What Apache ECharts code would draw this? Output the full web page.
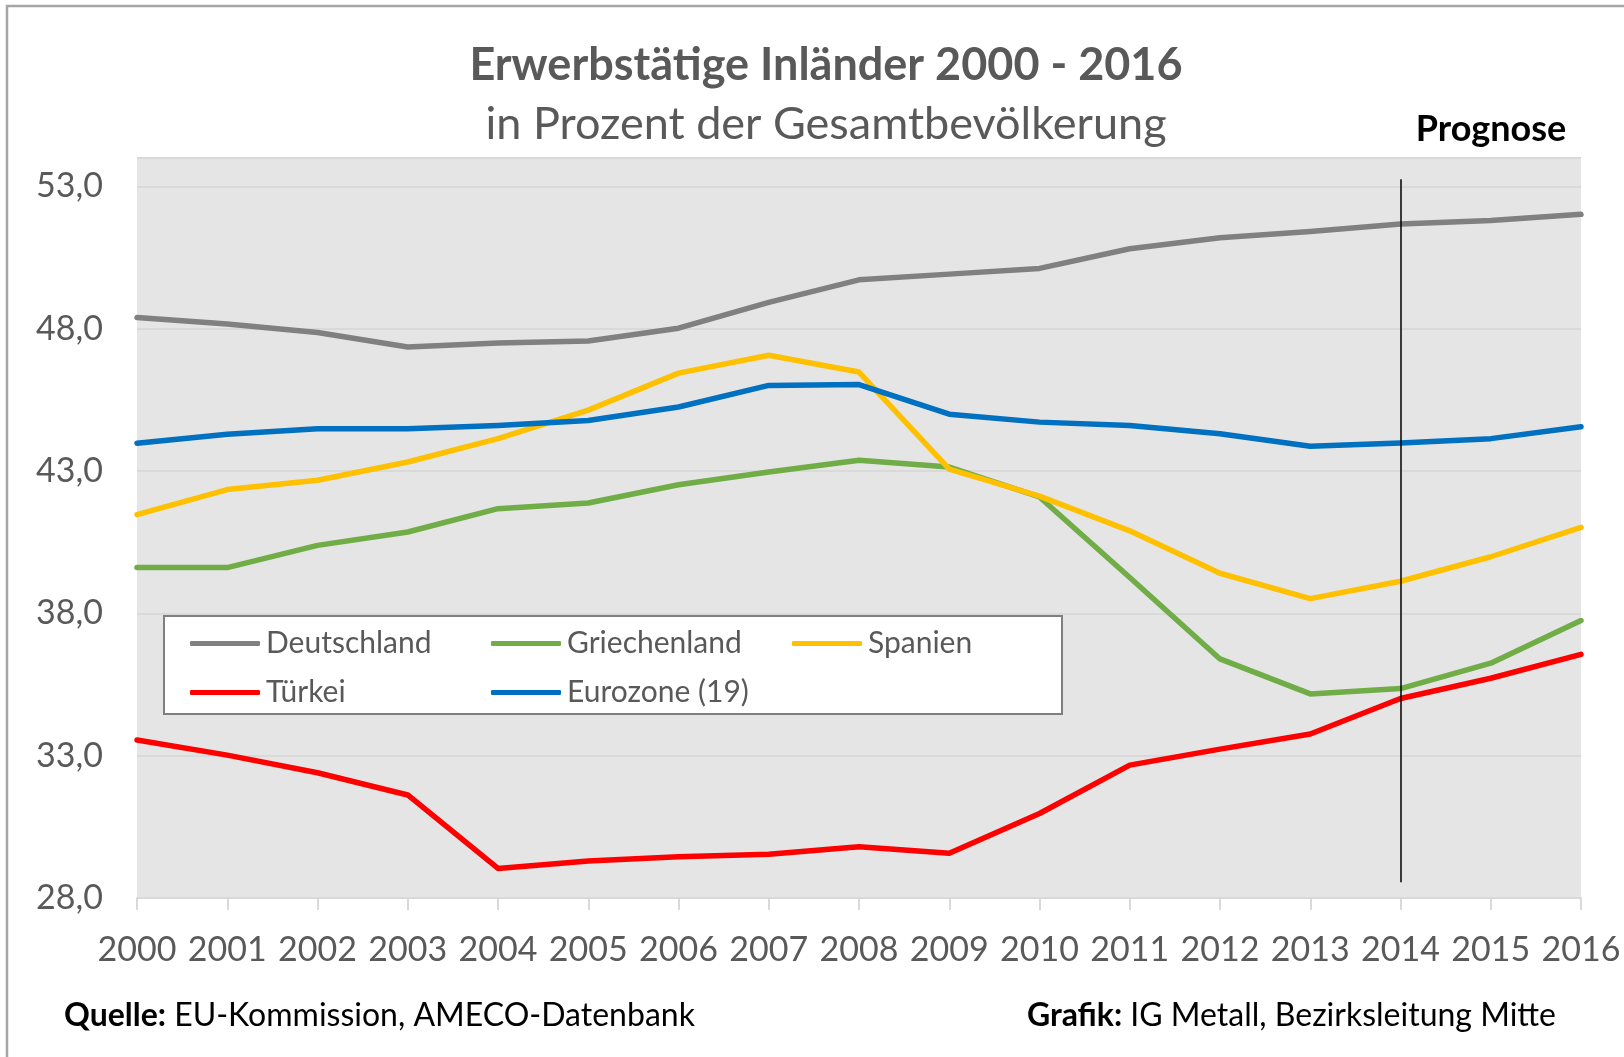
<!DOCTYPE html>
<html>
<head>
<meta charset="utf-8">
<script src="https://cdn.jsdelivr.net/npm/echarts@6/dist/echarts.min.js"></script>
<style>
  html, body { margin: 0; padding: 0; background: #ffffff; }
  #chart { width: 1624px; height: 1057px; }
</style>
</head>
<body>
<div id="chart"></div>
<script>
// ---- Data ----
const years = ['2000','2001','2002','2003','2004','2005','2006','2007','2008','2009','2010','2011','2012','2013','2014','2015','2016'];
const deutschland  = [48.4, 48.17, 47.87, 47.36, 47.5, 47.57, 48.02, 48.93, 49.72, 49.92, 50.12, 50.81, 51.2, 51.42, 51.68, 51.8, 52.02];
const griechenland = [39.61, 39.61, 40.39, 40.86, 41.68, 41.88, 42.52, 42.97, 43.38, 43.14, 42.09, 39.26, 36.4, 35.17, 35.36, 36.25, 37.75];
const spanien      = [41.47, 42.35, 42.68, 43.32, 44.14, 45.14, 46.44, 47.07, 46.48, 43.07, 42.12, 40.9, 39.41, 38.52, 39.13, 39.99, 41.02];
const tuerkei      = [33.55, 33.02, 32.4, 31.62, 29.04, 29.3, 29.45, 29.54, 29.8, 29.57, 30.97, 32.67, 33.23, 33.76, 35.01, 35.72, 36.56];
const eurozone     = [43.98, 44.29, 44.49, 44.49, 44.6, 44.78, 45.25, 46.01, 46.04, 45.0, 44.72, 44.6, 44.31, 43.87, 43.99, 44.14, 44.56];
const seriesNames  = ['Deutschland', 'Griechenland', 'Spanien', 'Türkei', 'Eurozone (19)'];
const yTicks = { min: 28, max: 54, interval: 5 };
const prognoseYear = '2014';
const prognoseLineRange = [28.55, 53.25];
const titleText = 'Erwerbstätige Inländer 2000 - 2016';
const subtitleText = 'in Prozent der Gesamtbevölkerung';
const prognoseText = 'Prognose';
const sourceLabel = 'Quelle:';
const sourceText = ' EU-Kommission, AMECO-Datenbank';
const creditLabel = 'Grafik:';
const creditText = ' IG Metall, Bezirksleitung Mitte';

const colors = ['#808080', '#70AD47', '#FFC000', '#FF0000', '#0070C0'];
const FONT = 'Lato';
const seriesData = [deutschland, griechenland, spanien, tuerkei, eurozone];

const chart = echarts.init(document.getElementById('chart'), null, { renderer: 'canvas' });

const series = seriesNames.map((name, i) => ({
  name: name,
  type: 'line',
  data: seriesData[i],
  symbol: 'none',
  smooth: false,
  lineStyle: { width: 5.5, color: colors[i], cap: 'round', join: 'round' },
  itemStyle: { color: colors[i] },
  z: 2
}));

series[0].markLine = {
  silent: true,
  symbol: ['none', 'none'],
  label: { show: false },
  lineStyle: { color: '#000000', width: 1.5, type: 'solid' },
  data: [[{ coord: [prognoseYear, prognoseLineRange[1]] }, { coord: [prognoseYear, prognoseLineRange[0]] }]]
};

const option = {
  animation: false,
  backgroundColor: '#ffffff',
  grid: {
    left: 137, right: 43, top: 158, bottom: 159,
    show: true, backgroundColor: '#e5e5e5', borderWidth: 0
  },
  legend: {
    data: seriesNames,
    left: 190, top: 619, width: 910,
    orient: 'horizontal',
    padding: 0, itemGap: 0,
    itemWidth: 70, itemHeight: 5,
    icon: 'roundRect',
    itemStyle: { borderWidth: 0 },
    textStyle: { fontFamily: FONT, fontSize: 30, color: '#595959', width: 225, lineHeight: 49, padding: [0,0,0,1] },
    selectedMode: false,
    z: 5
  },
  xAxis: {
    type: 'category',
    data: years,
    boundaryGap: false,
    axisLine: { show: true, lineStyle: { color: '#d9d9d9', width: 2 } },
    axisTick: { show: true, length: 12, lineStyle: { color: '#d9d9d9', width: 2 } },
    axisLabel: { fontFamily: FONT, fontSize: 34, color: '#595959', margin: 35, interval: 0 },
    splitLine: { show: false }
  },
  yAxis: {
    type: 'value',
    min: yTicks.min, max: yTicks.max, interval: yTicks.interval,
    axisLine: { show: false },
    axisTick: { show: false },
    axisLabel: {
      fontFamily: FONT, fontSize: 34, color: '#595959', margin: 34,
      showMaxLabel: false,
      formatter: v => v.toFixed(1).replace('.', ',')
    },
    splitLine: { show: true, lineStyle: { color: '#d9d9d9', width: 2 } }
  },
  series: series,
  graphic: [
    { type: 'rect', z: 0, silent: true,
      shape: { x: 7, y: 6, width: 1700, height: 1100 },
      style: { fill: 'none', stroke: '#a6a6a6', lineWidth: 2.5 } },
    { type: 'rect', z: 4, silent: true,
      shape: { x: 164, y: 616, width: 898, height: 98 },
      style: { fill: '#ffffff', stroke: '#7f7f7f', lineWidth: 2 } },
    { type: 'text', silent: true, x: 826, y: 65,
      style: { text: titleText, font: 'bold 45px Lato', fill: '#595959', align: 'center', verticalAlign: 'middle' } },
    { type: 'text', silent: true, x: 826, y: 124,
      style: { text: subtitleText, font: '45px Lato', fill: '#595959', align: 'center', verticalAlign: 'middle' } },
    { type: 'text', silent: true, x: 1491, y: 129,
      style: { text: prognoseText, font: 'bold 36px Lato', fill: '#000000', align: 'center', verticalAlign: 'middle' } },
    { type: 'text', silent: true, x: 64, y: 1016,
      style: {
        text: '{b|' + sourceLabel + '}{n|' + sourceText + '}',
        verticalAlign: 'middle', align: 'left',
        rich: {
          b: { fontFamily: FONT, fontWeight: 'bold', fontSize: 32, fill: '#000000' },
          n: { fontFamily: FONT, fontSize: 32, fill: '#000000' }
        }
      } },
    { type: 'text', silent: true, x: 1556, y: 1016,
      style: {
        text: '{b|' + creditLabel + '}{n|' + creditText + '}',
        verticalAlign: 'middle', align: 'right',
        rich: {
          b: { fontFamily: FONT, fontWeight: 'bold', fontSize: 32, fill: '#000000' },
          n: { fontFamily: FONT, fontSize: 32, fill: '#000000' }
        }
      } }
  ]
};

chart.setOption(option);
</script>
</body>
</html>
